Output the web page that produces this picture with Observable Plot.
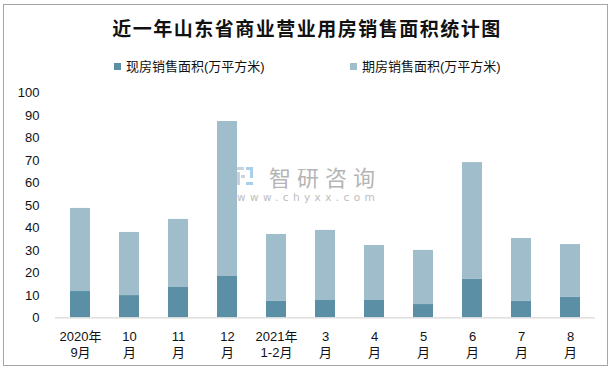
<!DOCTYPE html>
<html>
<head>
<meta charset="utf-8">
<script src="https://cdn.jsdelivr.net/npm/d3@7"></script>
<script src="https://cdn.jsdelivr.net/npm/@observablehq/plot@0.6"></script>
<style>
  html, body { margin: 0; padding: 0; background: #fff; }
  body { width: 614px; height: 372px; position: relative; overflow: hidden;
         font-family: "Liberation Sans", Arial, "Noto Sans CJK SC", sans-serif; }
  #frame { position: absolute; left: 3px; top: 4px; width: 605px; height: 362px;
           border: 1px solid #a6a6a6; box-sizing: border-box; }
  #title { position: absolute; left: 0; width: 614px; top: 14px; text-align: center;
           font-family: "Noto Sans CJK SC", sans-serif; font-weight: 700; font-size: 19px;
           letter-spacing: 1.5px; color: #111; line-height: 28px; }
  .leg { position: absolute; top: 58px; font-size: 13px; color: #111; line-height: 18px;
         font-family: "Liberation Sans", "Noto Sans CJK SC", sans-serif; white-space: nowrap; }
  .leg i { display: inline-block; width: 7px; height: 7px; margin-right: 5px; vertical-align: 1px; }
  #chart { position: absolute; left: 0; top: 80px; }
  #wm { position: absolute; left: 237px; top: 164px; color: #b5b5b5; }
  #wm .logo { position: absolute; left: 0; top: 3px; width: 16px; height: 18px; }
  #wm .zh { position: absolute; left: 32px; top: 2px; font-family: "Noto Sans CJK SC", sans-serif;
            font-size: 22px; letter-spacing: 6px; white-space: nowrap; line-height: 20px; }
  #wm .en { position: absolute; left: 0; top: 28px; font-size: 10.5px; letter-spacing: 4.4px; line-height: 11px;
            white-space: nowrap; font-family: "DejaVu Sans", sans-serif; color: #bdbdbd; }
</style>
</head>
<body>
<div id="frame"></div>
<div id="title">近一年山东省商业营业用房销售面积统计图</div>
<div class="leg" style="left:114px"><i style="background:#5b8fa6"></i>现房销售面积(万平方米)</div>
<div class="leg" style="left:350px"><i style="background:#9fbdca"></i>期房销售面积(万平方米)</div>
<div id="chart"></div>
<div id="wm">
  <svg class="logo" viewBox="0 0 16 18"><rect x="0" y="0" width="7" height="3" fill="#c9d3e0"/><rect x="0" y="5" width="3" height="13" fill="#c9d3e0"/><rect x="4" y="8" width="4" height="3" fill="#c9d3e0"/><rect x="9" y="0" width="7" height="3" fill="#a9d0ea"/><rect x="13" y="3" width="3" height="8" fill="#a9d0ea"/><rect x="9" y="15" width="7" height="3" fill="#a9d0ea"/></svg>
  <div class="zh">智研咨询</div>
  <div class="en">www.chyxx.com</div>
</div>
<script>
const categories = ["2020年9月", "10月", "11月", "12月", "2021年1-2月", "3月", "4月", "5月", "6月", "7月", "8月"];
const tickLabels = ["2020年\n9月", "10\n月", "11\n月", "12\n月", "2021年\n1-2月", "3\n月", "4\n月", "5\n月", "6\n月", "7\n月", "8\n月"];
const seriesNames = ["现房销售面积(万平方米)", "期房销售面积(万平方米)"];
const xianfang = [11.7, 9.9, 13.5, 18.4, 7.3, 7.7, 7.7, 5.9, 17.1, 7.3, 9.1];
const qifang = [37.0, 28.1, 30.3, 69.0, 29.8, 31.2, 24.5, 24.1, 52.0, 28.0, 23.5];
const yTicks = [0, 10, 20, 30, 40, 50, 60, 70, 80, 90, 100];

const rows = [];
categories.forEach((c, i) => {
  rows.push({cat: c, series: seriesNames[0], value: xianfang[i]});
  rows.push({cat: c, series: seriesNames[1], value: qifang[i]});
});
const labelOf = new Map(categories.map((c, i) => [c, tickLabels[i]]));

const chart = Plot.plot({
  width: 614,
  height: 285,
  marginTop: 12.7,
  marginBottom: 47.7,
  marginLeft: 55,
  marginRight: 19,
  style: {fontFamily: "'Liberation Sans', Arial, 'Noto Sans CJK SC', sans-serif", fontSize: "13px", color: "#111", background: "transparent"},
  x: {domain: categories, paddingInner: 0.59, paddingOuter: 0.295, label: null},
  y: {domain: [0, 100], label: null},
  color: {domain: seriesNames, range: ["#5b8fa6", "#9fbdca"]},
  marks: [
    Plot.barY(rows, {x: "cat", y: "value", fill: "series", order: seriesNames}),
    Plot.ruleY([0], {stroke: "#d9d9d9", strokeWidth: 1.3}),
    Plot.axisY({ticks: yTicks, tickSize: 0, tickPadding: 16, fontSize: 13, fill: "#111", label: null}),
    Plot.axisX({tickSize: 0, tickPadding: 11, fontSize: 13, fill: "#111", lineHeight: 1.28, label: null,
                tickFormat: d => labelOf.get(d)})
  ]
});
document.getElementById("chart").appendChild(chart);
</script>
</body>
</html>
